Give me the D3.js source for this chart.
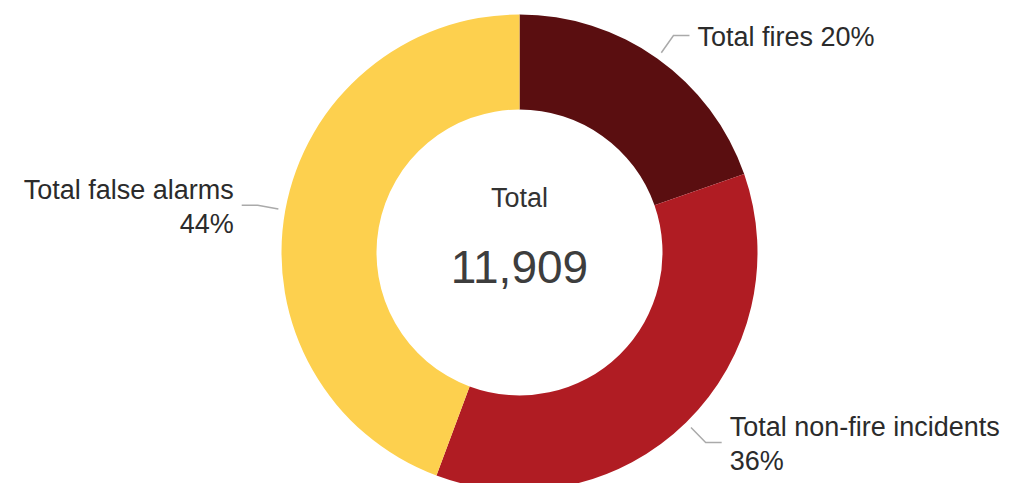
<!DOCTYPE html>
<html>
<head>
<meta charset="utf-8">
<script src="https://cdn.jsdelivr.net/npm/d3@7"></script>
<style>
  html, body { margin: 0; padding: 0; background: #fff; }
  svg { display: block; }
</style>
</head>
<body>
<div id="chart"></div>
<script>
// data
var categories = [ 'Total fires', 'Total non-fire incidents', 'Total false alarms' ];
var values = [ 2340, 4290, 5279 ];
var colors = [ '#5a0e10', '#b01c23', '#fdd04e' ];
var wrapLabel = [ false, true, true ];
var centerTitle = 'Total';

var width = 1018;
var height = 483;
var cx = 519.5;
var cy = 252.5;
var outerR = 238;
var innerR = 143;

var total = d3.sum( values );

var svg = d3.select( '#chart' )
  .append( 'svg' )
  .attr( 'width', width )
  .attr( 'height', height );

var g = svg.append( 'g' )
  .attr( 'transform', 'translate(' + cx + ',' + cy + ')' );

var pie = d3.pie()
  .sort( null )
  .value( function( d ) { return d; } );

var arc = d3.arc()
  .innerRadius( innerR )
  .outerRadius( outerR );

var slices = pie( values );

g.selectAll( '.slice' )
  .data( slices )
  .enter()
  .append( 'path' )
  .attr( 'class', 'slice' )
  .attr( 'd', arc )
  .attr( 'fill', function( d, i ) { return colors[ i ]; } );

// centre text
g.append( 'text' )
  .attr( 'x', 0 )
  .attr( 'y', 207 - cy )
  .attr( 'text-anchor', 'middle' )
  .attr( 'font-family', 'Liberation Sans, Arial, sans-serif' )
  .attr( 'font-size', '27px' )
  .attr( 'fill', '#333' )
  .text( centerTitle );

g.append( 'text' )
  .attr( 'x', 0 )
  .attr( 'y', 283 - cy )
  .attr( 'text-anchor', 'middle' )
  .attr( 'font-family', 'Liberation Sans, Arial, sans-serif' )
  .attr( 'font-size', '46px' )
  .attr( 'fill', '#3d3d3d' )
  .text( d3.format( ',' )( total ) );

// labels with leader lines
function polar( angle, r ) {
  return [ r * Math.sin( angle ), -r * Math.cos( angle ) ];
}

slices.forEach( function( d, i ) {
  var mid = ( d.startAngle + d.endAngle ) / 2;
  var right = Math.sin( mid ) > 0;
  var p0 = polar( mid, outerR + 7 );
  var p1 = polar( mid, outerR + 28 );
  var p2 = [ p1[ 0 ] + ( right ? 16 : -16 ), p1[ 1 ] ];

  g.append( 'polyline' )
    .attr( 'points', [ p0, p1, p2 ].map( function( p ) { return p.join( ',' ); } ).join( ' ' ) )
    .attr( 'fill', 'none' )
    .attr( 'stroke', '#aaa' )
    .attr( 'stroke-width', 1.5 );

  var pct = Math.round( d.value / total * 100 ) + '%';
  var tx = p2[ 0 ] + ( right ? 8 : -8 );
  var lines = wrapLabel[ i ] ? [ categories[ i ], pct ] : [ categories[ i ] + ' ' + pct ];
  var baseY = wrapLabel[ i ] ? p1[ 1 ] - 6 : p1[ 1 ] + 10;

  var t = g.append( 'text' )
    .attr( 'text-anchor', right ? 'start' : 'end' )
    .attr( 'font-family', 'Liberation Sans, Arial, sans-serif' )
    .attr( 'font-size', '27px' )
    .attr( 'fill', '#2b2b2b' );

  lines.forEach( function( line, j ) {
    t.append( 'tspan' )
      .attr( 'x', tx )
      .attr( 'y', baseY + j * 34 )
      .text( line );
  } );
} );
</script>
</body>
</html>
